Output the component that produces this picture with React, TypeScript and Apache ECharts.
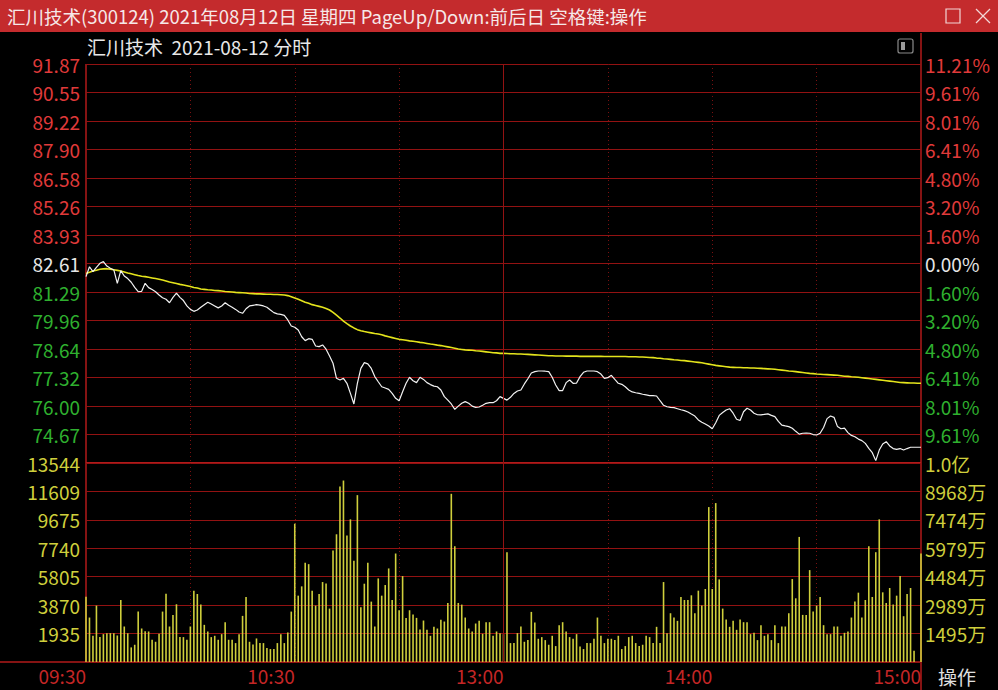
import React, { useEffect, useRef } from 'react';
import * as echarts from 'echarts';

// ---------- data ----------
const titleText = '汇川技术(300124) 2021年08月12日 星期四 PageUp/Down:前后日 空格键:操作';
const subTitleText = '汇川技术  2021-08-12 分时';

// tick labels (bottom -> top)
const priceTickText = ['', '74.67', '76.00', '77.32', '78.64', '79.96', '81.29', '82.61', '83.93', '85.26', '86.58', '87.90', '89.22', '90.55', '91.87'];
const pctTickText = ['', '9.61%', '8.01%', '6.41%', '4.80%', '3.20%', '1.60%', '0.00%', '1.60%', '3.20%', '4.80%', '6.41%', '8.01%', '9.61%', '11.21%'];
const volTickText = ['', '1935', '3870', '5805', '7740', '9675', '11609', '13544'];
const amtTickText = ['', '1495万', '2989万', '4484万', '5979万', '7474万', '8968万', '1.0亿'];
const timeTickIndex = [0, 60, 120, 180, 240];
const timeTickText = ['09:30', '10:30', '13:00', '14:00', '15:00'];

const priceMin = 73.35;
const priceMax = 91.87;
const volMax = 13545;
const volStep = 1935;

// minute categories 09:30..11:30, 13:01..15:00
const minutes: string[] = [];
const fmt = (m: number) => `${String(Math.floor(m / 60)).padStart(2, '0')}:${String(m % 60).padStart(2, '0')}`;
for (let m = 570; m <= 690; m++) minutes.push(fmt(m));
for (let m = 781; m <= 900; m++) minutes.push(fmt(m));

const priceValues = [
  82.00, 82.46, 82.23, 82.43, 82.62, 82.70, 82.49, 82.39, 82.31, 81.69,
  82.28, 82.03, 81.91, 81.74, 81.50, 81.30, 81.32, 81.69, 81.49, 81.40,
  81.30, 81.15, 81.02, 80.95, 80.79, 81.04, 81.23, 81.04, 80.89, 80.64,
  80.48, 80.39, 80.45, 80.58, 80.70, 80.81, 80.73, 80.64, 80.55, 80.64,
  80.79, 80.67, 80.58, 80.48, 80.36, 80.30, 80.51, 80.64, 80.67, 80.70,
  80.68, 80.64, 80.58, 80.45, 80.33, 80.27, 80.25, 80.20, 79.99, 79.71,
  79.65, 79.52, 79.21, 79.03, 79.12, 79.09, 78.78, 78.75, 78.83, 78.63,
  78.32, 77.98, 77.28, 77.20, 77.28, 77.05, 76.58, 76.09, 77.05, 77.74,
  78.01, 77.95, 77.74, 77.36, 77.12, 76.89, 76.83, 76.77, 76.58, 76.35,
  76.24, 76.66, 77.05, 77.33, 77.17, 77.08, 77.33, 77.23, 77.08, 76.99,
  76.92, 76.89, 76.74, 76.43, 76.27, 76.09, 75.84, 75.99, 76.12, 76.20,
  76.12, 75.99, 75.93, 75.95, 76.03, 76.12, 76.15, 76.15, 76.24, 76.43,
  76.35, 76.27, 76.40, 76.58, 76.69, 76.74, 77.02, 77.26, 77.53, 77.59,
  77.62, 77.62, 77.61, 77.59, 77.33, 76.97, 76.71, 76.71, 77.08, 77.20,
  77.05, 77.06, 77.36, 77.56, 77.62, 77.62, 77.62, 77.59, 77.48, 77.28,
  77.31, 77.42, 77.23, 77.05, 77.00, 76.89, 76.74, 76.65, 76.61, 76.58,
  76.54, 76.51, 76.48, 76.48, 76.46, 76.24, 76.03, 75.96, 75.93, 75.92,
  75.87, 75.82, 75.78, 75.72, 75.62, 75.53, 75.35, 75.24, 75.16, 75.07,
  74.94, 75.22, 75.56, 75.69, 75.81, 75.87, 75.66, 75.38, 75.32, 75.73,
  75.89, 75.81, 75.66, 75.59, 75.58, 75.61, 75.63, 75.56, 75.50, 75.28,
  75.11, 75.07, 75.04, 74.96, 74.82, 74.69, 74.73, 74.74, 74.73, 74.67,
  74.65, 74.73, 75.00, 75.41, 75.53, 75.47, 75.04, 74.94, 74.97, 74.76,
  74.63, 74.57, 74.46, 74.39, 74.26, 74.03, 73.83, 73.46, 73.95, 74.23,
  74.34, 74.14, 74.02, 73.98, 74.02, 73.95, 74.02, 74.08, 74.08, 74.08,
  74.08,
];

const avgValues = [
  82.15, 82.20, 82.26, 82.30, 82.34, 82.36, 82.37, 82.35, 82.32, 82.29,
  82.26, 82.22, 82.17, 82.13, 82.09, 82.05, 82.02, 82.00, 81.97, 81.94,
  81.91, 81.88, 81.84, 81.80, 81.75, 81.72, 81.68, 81.64, 81.61, 81.58,
  81.54, 81.50, 81.47, 81.43, 81.41, 81.39, 81.38, 81.36, 81.35, 81.33,
  81.31, 81.30, 81.29, 81.27, 81.26, 81.25, 81.24, 81.22, 81.21, 81.20,
  81.20, 81.19, 81.18, 81.18, 81.17, 81.17, 81.16, 81.15, 81.12, 81.07,
  81.01, 80.95, 80.88, 80.81, 80.76, 80.70, 80.66, 80.62, 80.58, 80.52,
  80.45, 80.34, 80.21, 80.08, 79.94, 79.82, 79.71, 79.62, 79.54, 79.49,
  79.45, 79.42, 79.39, 79.36, 79.34, 79.30, 79.25, 79.21, 79.17, 79.13,
  79.09, 79.07, 79.05, 79.02, 79.00, 78.98, 78.95, 78.93, 78.90, 78.87,
  78.85, 78.82, 78.80, 78.77, 78.74, 78.71, 78.68, 78.64, 78.62, 78.60,
  78.59, 78.58, 78.56, 78.55, 78.53, 78.51, 78.49, 78.47, 78.46, 78.44,
  78.44, 78.43, 78.42, 78.42, 78.41, 78.41, 78.40, 78.39, 78.38, 78.37,
  78.36, 78.35, 78.34, 78.33, 78.33, 78.32, 78.32, 78.32, 78.31, 78.31,
  78.31, 78.31, 78.30, 78.30, 78.30, 78.30, 78.30, 78.30, 78.30, 78.29,
  78.29, 78.29, 78.29, 78.29, 78.29, 78.29, 78.28, 78.28, 78.28, 78.27,
  78.27, 78.26, 78.25, 78.24, 78.22, 78.21, 78.19, 78.18, 78.16, 78.14,
  78.13, 78.11, 78.10, 78.08, 78.06, 78.04, 78.02, 78.00, 77.97, 77.94,
  77.91, 77.88, 77.86, 77.84, 77.82, 77.80, 77.79, 77.78, 77.78, 77.77,
  77.77, 77.76, 77.76, 77.75, 77.74, 77.73, 77.72, 77.71, 77.70, 77.68,
  77.66, 77.64, 77.62, 77.61, 77.59, 77.57, 77.55, 77.53, 77.51, 77.50,
  77.48, 77.47, 77.46, 77.45, 77.44, 77.43, 77.42, 77.40, 77.38, 77.37,
  77.35, 77.34, 77.33, 77.31, 77.29, 77.27, 77.25, 77.23, 77.21, 77.19,
  77.17, 77.15, 77.13, 77.11, 77.09, 77.08, 77.07, 77.06, 77.06, 77.05,
  77.05,
];

const volumeValues = [
  4448, 3026, 1784, 3839, 1694, 1897, 1965, 1965, 1965, 1806,
  4222, 2416, 1965, 994, 1174, 3432, 2281, 2100, 2077, 1513,
  1377, 1919, 3432, 4651, 2416, 3206, 3929, 1694, 1694, 1513,
  2416, 4855, 4629, 3906, 2529, 2077, 1694, 1784, 1513, 1897,
  2710, 1513, 1513, 1287, 1897, 3139, 4426, 1377, 1197, 1603,
  1287, 1287, 948, 881, 881, 1287, 1897, 1287, 2010, 3432,
  9416,
  4516, 5148, 6751, 6661, 4855, 3839, 4629, 5442, 5351, 3635,
  7587, 8693, 11945, 12351, 8603, 9709, 6887, 11358, 3726, 5329,
  6751, 4110, 2416, 5690, 4516, 5239, 6368, 4222, 7384, 3522,
  5848, 3003, 3522, 3229, 3003, 2213, 2823, 2190, 1784, 2394,
  2281, 2868, 2755, 4019, 11448, 7880, 4019, 3906, 3026, 2281,
  2077, 2619, 2800, 1919, 2710, 2710, 1784, 2077, 1965, 1897,
  7474, 1287, 1287, 1965, 2416, 1377, 1490, 3410, 2687, 1581,
  1694, 1490, 1174, 1784, 1084, 2506, 2710, 2077, 1694, 1581,
  1897, 1061, 881, 1287, 1287, 1581, 3026, 1784, 1287, 1581,
  1581, 1490, 1784, 881, 1084, 1694, 1784, 1287, 1084, 1174,
  1784, 1694, 1287, 2394, 1287, 5442, 1965, 3319, 3026, 2800,
  4426, 4222, 4222, 4539, 3319, 4855, 3839, 4968, 10545, 4968,
  10816, 5622, 3635, 2890, 2394, 2800, 2190, 2890, 2710, 2710,
  1897, 1987, 1490, 2506, 1784, 1897, 1490, 2506, 1287, 2416,
  2416, 3319, 5645, 4335, 8513, 3206, 3206, 6255, 3432, 3839,
  4426, 2506, 1897, 1897, 2416, 2416, 1784, 1987, 2077, 3026,
  4110, 4719, 3026, 4222, 7880, 4426, 7474, 9709, 4742, 4019,
  5035, 3906, 4516, 5848, 3116, 4629, 5035, 768, 0, 7384,
];

// ---------- styles ----------
const FONT = '"Noto Sans CJK SC", "Noto Sans", sans-serif';
const FS = 19;
const GRID_RED = '#921212';
const BORDER_RED = '#b21a1a';
const UP_RED = '#e03a3a';
const DOWN_GREEN = '#2fb02f';
const FLAT_WHITE = '#e6e6e6';
const VOL_YELLOW = '#cfcf3c';

const PLOT_L = 86;
const PLOT_R = 921;
const PRICE_TOP = 64;
const PRICE_BOTTOM = 463;
const VOL_BOTTOM = 662;

export default function App() {
  const ref = useRef<HTMLDivElement>(null);
  useEffect(() => {
    document.body.style.margin = '0';
    document.body.style.background = '#000';
    const chart = echarts.init(ref.current!, null, { renderer: 'svg' });
    const pctColor = (v: any) => {
      const i = Math.round(Number(v));
      return i > 7 ? UP_RED : i === 7 ? FLAT_WHITE : DOWN_GREEN;
    };
    const separatorLine = {
      silent: true,
      symbol: ['none', 'none'],
      label: { show: false },
      lineStyle: { color: GRID_RED, type: 'solid', width: 1 },
      data: [{ xAxis: minutes[120] }],
    };
    const option: any = {
      animation: false,
      backgroundColor: '#000',
      textStyle: { fontFamily: FONT },
      grid: [
        { left: PLOT_L, top: PRICE_TOP, width: PLOT_R - PLOT_L, height: PRICE_BOTTOM - PRICE_TOP },
        { left: PLOT_L, top: PRICE_BOTTOM, width: PLOT_R - PLOT_L, height: VOL_BOTTOM - PRICE_BOTTOM },
      ],
      xAxis: [0, 1].map((g) => ({
        type: 'category',
        gridIndex: g,
        data: minutes,
        boundaryGap: false,
        axisLine: { show: false },
        axisTick: { show: false },
        axisLabel: g === 1
          ? {
              show: true,
              interval: (idx: number) => timeTickIndex.includes(idx),
              formatter: (_v: string, idx: number) => timeTickText[timeTickIndex.indexOf(idx)] ?? '',
              align: 'right',
              color: '#c42626',
              fontSize: FS,
              fontFamily: FONT,
              margin: 4,
              hideOverlap: false,
              showMinLabel: true,
              showMaxLabel: true,
            }
          : { show: false },
        splitLine: {
          show: true,
          interval: (idx: number) => idx % 30 === 0 && idx > 0 && idx < 240 && idx !== 120,
          lineStyle: { color: '#7a1010', type: [1, 3], width: 1 },
        },
      })),
      yAxis: [
        { type: 'value', gridIndex: 0, show: false, min: priceMin, max: priceMax },
        {
          type: 'value', gridIndex: 0, position: 'left', min: 0, max: 14, interval: 1,
          axisLine: { show: false }, axisTick: { show: false },
          axisLabel: {
            formatter: (v: number) => priceTickText[Math.round(v)] ?? '',
            color: pctColor, fontSize: FS, fontFamily: FONT, margin: 6,
          },
          splitLine: { show: true, lineStyle: { color: GRID_RED, width: 1 } },
        },
        {
          type: 'value', gridIndex: 0, position: 'right', min: 0, max: 14, interval: 1,
          axisLine: { show: false }, axisTick: { show: false },
          axisLabel: {
            formatter: (v: number) => pctTickText[Math.round(v)] ?? '',
            color: pctColor, fontSize: FS, fontFamily: FONT, margin: 4,
          },
          splitLine: { show: false },
        },
        {
          type: 'value', gridIndex: 1, position: 'left', min: 0, max: volMax, interval: volStep,
          axisLine: { show: false }, axisTick: { show: false },
          axisLabel: {
            formatter: (v: number) => volTickText[Math.round(v / volStep)] ?? '',
            color: VOL_YELLOW, fontSize: FS, fontFamily: FONT, margin: 6,
          },
          splitLine: { show: true, lineStyle: { color: GRID_RED, width: 1 } },
        },
        {
          type: 'value', gridIndex: 1, position: 'right', min: 0, max: volMax, interval: volStep,
          axisLine: { show: false }, axisTick: { show: false },
          axisLabel: {
            formatter: (v: number) => amtTickText[Math.round(v / volStep)] ?? '',
            color: VOL_YELLOW, fontSize: FS, fontFamily: FONT, margin: 4,
          },
          splitLine: { show: false },
        },
      ],
      series: [
        {
          name: '均价', type: 'line', xAxisIndex: 0, yAxisIndex: 0, data: avgValues,
          showSymbol: false, symbol: 'none', lineStyle: { color: '#e4e41c', width: 1.6 }, z: 3,
          markLine: separatorLine,
        },
        {
          name: '价格', type: 'line', xAxisIndex: 0, yAxisIndex: 0, data: priceValues,
          showSymbol: false, symbol: 'none', lineStyle: { color: '#f2f2f2', width: 1.2 }, z: 4,
        },
        {
          name: '成交量', type: 'bar', xAxisIndex: 1, yAxisIndex: 3, data: volumeValues,
          barWidth: 1.6, itemStyle: { color: VOL_YELLOW }, z: 3,
          markLine: separatorLine,
        },
      ],
      graphic: [
        { type: 'rect', shape: { x: 0, y: 0, width: 998, height: 32 }, style: { fill: '#c42b2d' }, silent: true },
        {
          type: 'text', x: 7, y: 16,
          style: { text: titleText, fill: '#f6e8e8', font: `18.5px ${FONT}`, verticalAlign: 'middle' },
        },
        { type: 'rect', shape: { x: 946, y: 9, width: 14, height: 14 }, style: { fill: 'none', stroke: '#f2d6d6', lineWidth: 1.2 } },
        { type: 'line', shape: { x1: 976, y1: 9, x2: 990, y2: 23 }, style: { stroke: '#f2d6d6', lineWidth: 1.2 } },
        { type: 'line', shape: { x1: 990, y1: 9, x2: 976, y2: 23 }, style: { stroke: '#f2d6d6', lineWidth: 1.2 } },
        {
          type: 'text', x: 87, y: 46,
          style: { text: subTitleText, fill: '#e8e8e8', font: `${FS}px ${FONT}`, verticalAlign: 'middle' },
        },
        { type: 'rect', shape: { x: 898, y: 39, width: 15, height: 14, r: 2 }, style: { fill: 'none', stroke: '#8a8a8a', lineWidth: 1.2 } },
        { type: 'rect', shape: { x: 901, y: 42, width: 4, height: 8 }, style: { fill: '#9a9a9a' } },
        // borders
        { type: 'line', shape: { x1: PLOT_L, y1: PRICE_TOP, x2: PLOT_L, y2: VOL_BOTTOM }, style: { stroke: BORDER_RED, lineWidth: 1.5 } },
        { type: 'line', shape: { x1: PLOT_R, y1: 33, x2: PLOT_R, y2: 690 }, style: { stroke: BORDER_RED, lineWidth: 1.5 } },
        { type: 'line', shape: { x1: 0, y1: VOL_BOTTOM, x2: PLOT_R, y2: VOL_BOTTOM }, style: { stroke: BORDER_RED, lineWidth: 1.5 } },
        { type: 'line', shape: { x1: PLOT_L, y1: PRICE_BOTTOM, x2: PLOT_R, y2: PRICE_BOTTOM }, style: { stroke: BORDER_RED, lineWidth: 2 } },
        {
          type: 'text', x: 938, y: 676,
          style: { text: '操作', fill: '#e0e0e0', font: `${FS}px ${FONT}`, verticalAlign: 'middle' },
        },
      ],
    };
    chart.setOption(option);
    return () => chart.dispose();
  }, []);
  return <div ref={ref} style={{ width: 998, height: 690 }} />;
}
